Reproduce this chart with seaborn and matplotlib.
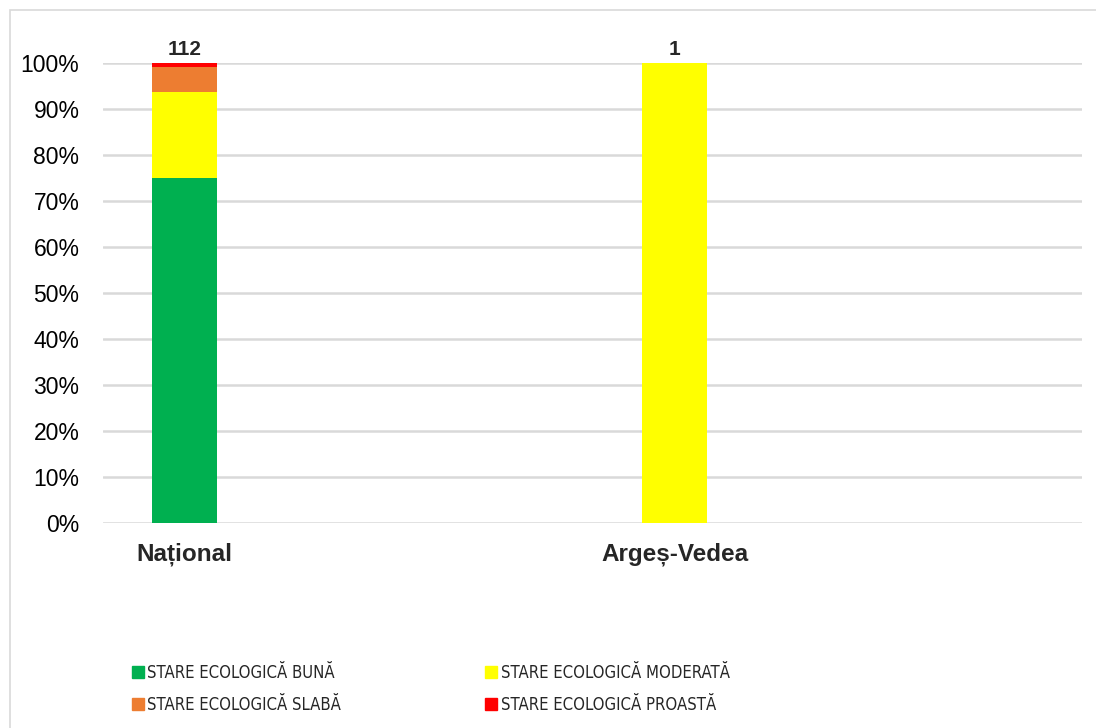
import numpy as np
import pandas as pd
import seaborn as sns
import matplotlib.pyplot as plt
from matplotlib.patches import Rectangle
from matplotlib.lines import Line2D

regiuni = ["Național", "Argeș-Vedea"]
serii = ["STARE ECOLOGICĂ BUNĂ", "STARE ECOLOGICĂ MODERATĂ",
         "STARE ECOLOGICĂ SLABĂ", "STARE ECOLOGICĂ PROASTĂ"]
buna = [84, 0]
moderata = [21, 1]
slaba = [6, 0]
proasta = [1, 0]
culori = ["#00b050", "#ffff00", "#ed7d31", "#ff0000"]

tabela = pd.DataFrame({serii[0]: buna, serii[1]: moderata,
                       serii[2]: slaba, serii[3]: proasta}, index=regiuni)
total = tabela.sum(axis=1)
procente = tabela.div(total, axis=0)

sns.set_style("white")
plt.rcParams['font.family'] = ['Liberation Sans', 'DejaVu Sans']

fig = plt.figure(figsize=(10.96, 7.28), dpi=100)
W, H = 1096, 728
ax = fig.add_axes([103 / W, (H - 523) / H, (1082 - 103) / W, (523 - 63) / H])

# bare stivuite
jos = np.zeros(len(regiuni))
for serie, culoare in zip(serii, culori):
    sns.barplot(x=regiuni, y=procente[serie].values, bottom=jos, color=culoare,
                width=0.133, ax=ax, linewidth=0, saturation=1)
    jos = jos + procente[serie].values

ax.set_ylim(0, 1)
ax.set_xlim(-(184.5 - 103) / 490, (1082 - 184.5) / 490)
ax.set_yticks(np.arange(0, 1.01, 0.1))
ax.set_yticklabels([f"{int(round(v * 100))}%" for v in np.arange(0, 1.01, 0.1)],
                   fontsize=16.5, color="#000000")
ax.set_xticks(range(len(regiuni)))
ax.set_xticklabels(regiuni, fontsize=17.5, fontweight="bold")
ax.tick_params(axis="y", length=0, pad=17)
ax.tick_params(axis="x", length=0, pad=14)
ax.yaxis.grid(True, color="#d9d9d9", linewidth=1.8)
ax.set_axisbelow(True)
for s in ax.spines.values():
    s.set_visible(False)

# totaluri deasupra barelor
for i, t in enumerate(total):
    ax.text(i, 1.008, str(t), ha="center", va="bottom", fontsize=15,
            fontweight="bold", clip_on=False)

# legenda
handles = [Line2D([], [], marker="s", linestyle="none", markersize=9,
                  markerfacecolor=c, markeredgecolor=c) for c in culori]
ordine = [0, 2, 1, 3]
leg = fig.legend([handles[i] for i in ordine], [serii[i] for i in ordine],
                 ncol=2, loc="upper left", bbox_to_anchor=(115 / W, 1 - 649 / H),
                 frameon=False, handletextpad=0.1, handlelength=0.9,
                 columnspacing=8.6, labelspacing=0.85,
                 prop={"family": ["DejaVu Sans"], "stretch": "condensed", "size": 12})
for t in leg.get_texts():
    t.set_color("#262626")

# chenar
fig.patches.append(Rectangle((10 / W, -0.01), 1.0, 1 - 10 / H + 0.01,
                             transform=fig.transFigure, fill=False,
                             edgecolor="#d9d9d9", linewidth=1.2))

fig.savefig("out.png", dpi=100)
